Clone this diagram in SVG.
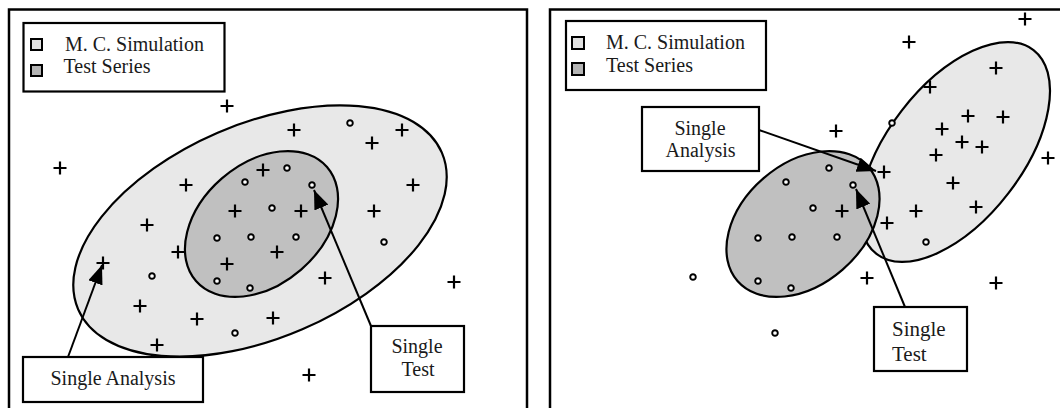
<svg xmlns="http://www.w3.org/2000/svg" xmlns:xlink="http://www.w3.org/1999/xlink" width="1060" height="408" viewBox="0 0 1060 408">
<style>
.frame{fill:none;stroke:#000;stroke-width:2.5}
.box{fill:#fff;stroke:#000;stroke-width:2.2}
.light{fill:#e8e8e8;stroke:#000;stroke-width:2.2}
.dark{fill:#c0c0c0;stroke:#000;stroke-width:2.2}
.sq1{fill:#e2e2e2;stroke:#000;stroke-width:2}
.sq2{fill:#b4b4b4;stroke:#000;stroke-width:2}
.t{font-family:"Liberation Serif","Times New Roman",serif;font-size:20px;fill:#1a1a1a}
.c{text-anchor:middle}
.conn{fill:none;stroke:#000;stroke-width:2}
</style>
<defs>
<marker id="ah" markerUnits="userSpaceOnUse" markerWidth="19" markerHeight="15" refX="19" refY="7.5" orient="auto">
<path d="M0,0 L19,7.5 L0,15 z" fill="#000"/>
</marker>
<g id="p"><path d="M-6.5,0 H6.5 M0,-6.5 V6.5" stroke="#000" stroke-width="2.2" fill="none"/></g>
<g id="o"><circle r="2.8" fill="#fff" stroke="#000" stroke-width="1.9"/></g>
</defs>
<rect width="1060" height="408" fill="#fff"/>

<!-- LEFT PANEL -->
<g id="left-frame"><rect class="frame" x="9" y="9.5" width="518" height="420"/></g>
<g id="left-legend">
<rect class="box" x="23.5" y="23" width="201" height="68.5"/>
<rect class="sq1" x="31" y="39" width="11" height="11"/>
<rect class="sq2" x="31" y="65" width="11" height="11"/>
<text class="t" x="65" y="51">M. C. Simulation</text>
<text class="t" x="63.5" y="73">Test Series</text>
</g>
<g id="left-mc-ellipse"><ellipse class="light" cx="260" cy="231" rx="198" ry="107" transform="rotate(-23.3 260 231)"/></g>
<g id="left-test-ellipse"><ellipse class="dark" cx="261.5" cy="224" rx="86.8" ry="60.4" transform="rotate(-41 261.5 224)"/></g>
<g id="left-points">
<use xlink:href="#p" x="227" y="106"/><use xlink:href="#p" x="60" y="168"/><use xlink:href="#p" x="186" y="185"/>
<use xlink:href="#p" x="147" y="225"/><use xlink:href="#p" x="263" y="170"/><use xlink:href="#p" x="235" y="211"/>
<use xlink:href="#p" x="301" y="211"/><use xlink:href="#p" x="294" y="130"/><use xlink:href="#p" x="372" y="143"/>
<use xlink:href="#p" x="402" y="130"/><use xlink:href="#p" x="413" y="185"/><use xlink:href="#p" x="374" y="211"/>
<use xlink:href="#p" x="178" y="252"/><use xlink:href="#p" x="277" y="252"/><use xlink:href="#p" x="227" y="264"/>
<use xlink:href="#p" x="325" y="278"/><use xlink:href="#p" x="103" y="263"/><use xlink:href="#p" x="140" y="306"/>
<use xlink:href="#p" x="197" y="319"/><use xlink:href="#p" x="157" y="345"/><use xlink:href="#p" x="273" y="318"/>
<use xlink:href="#p" x="309" y="375"/><use xlink:href="#p" x="454" y="282"/>
<use xlink:href="#o" x="350" y="123"/><use xlink:href="#o" x="287" y="168"/><use xlink:href="#o" x="245" y="182"/>
<use xlink:href="#o" x="312" y="185"/><use xlink:href="#o" x="272" y="208"/><use xlink:href="#o" x="217" y="238"/>
<use xlink:href="#o" x="251" y="237"/><use xlink:href="#o" x="296" y="237"/><use xlink:href="#o" x="217" y="281"/>
<use xlink:href="#o" x="250" y="288"/><use xlink:href="#o" x="152" y="276"/><use xlink:href="#o" x="235" y="333"/>
<use xlink:href="#o" x="384" y="242"/>
</g>
<g id="left-single-analysis">
<rect class="box" x="23" y="357" width="180" height="45"/>
<text class="t c" x="113" y="385">Single Analysis</text>
</g>
<g id="left-single-test">
<rect class="box" x="371" y="326" width="93" height="66"/>
<text class="t c" x="417" y="353">Single</text>
<text class="t c" x="418" y="376">Test</text>
</g>

<!-- RIGHT PANEL -->
<g id="right-frame"><rect class="frame" x="550" y="9.5" width="540" height="420"/></g>
<g id="right-legend">
<rect class="box" x="566" y="21" width="200" height="69"/>
<rect class="sq1" x="572" y="37" width="12" height="12"/>
<rect class="sq2" x="572" y="63" width="12" height="12"/>
<text class="t" x="606" y="48.5">M. C. Simulation</text>
<text class="t" x="606" y="71.5">Test Series</text>
</g>
<g id="right-mc-ellipse"><ellipse class="light" cx="955" cy="152" rx="128.7" ry="67.5" transform="rotate(-52.4 955 152)"/></g>
<g id="right-test-ellipse"><ellipse class="dark" cx="803" cy="224" rx="86.8" ry="60.4" transform="rotate(-41 803 224)"/></g>
<g id="right-points">
<use xlink:href="#p" x="1025" y="19"/><use xlink:href="#p" x="909" y="42"/><use xlink:href="#p" x="996" y="68"/>
<use xlink:href="#p" x="930" y="87"/><use xlink:href="#p" x="968" y="116"/><use xlink:href="#p" x="1003" y="117"/>
<use xlink:href="#p" x="836" y="131"/><use xlink:href="#p" x="942" y="129"/><use xlink:href="#p" x="962" y="142"/>
<use xlink:href="#p" x="982" y="147"/><use xlink:href="#p" x="936" y="155"/><use xlink:href="#p" x="1048" y="158"/>
<use xlink:href="#p" x="884" y="172"/><use xlink:href="#p" x="953" y="183"/><use xlink:href="#p" x="842" y="211"/>
<use xlink:href="#p" x="916" y="211"/><use xlink:href="#p" x="976" y="207"/><use xlink:href="#p" x="887" y="223"/>
<use xlink:href="#p" x="867" y="278"/><use xlink:href="#p" x="996" y="283"/>
<use xlink:href="#o" x="892" y="123"/><use xlink:href="#o" x="829" y="168"/><use xlink:href="#o" x="786" y="182"/>
<use xlink:href="#o" x="853" y="185"/><use xlink:href="#o" x="813" y="208"/><use xlink:href="#o" x="758" y="238"/>
<use xlink:href="#o" x="792" y="237"/><use xlink:href="#o" x="837" y="237"/><use xlink:href="#o" x="926" y="242"/>
<use xlink:href="#o" x="693" y="277"/><use xlink:href="#o" x="758" y="281"/><use xlink:href="#o" x="791" y="288"/>
<use xlink:href="#o" x="775" y="333"/>
</g>
<g id="right-single-analysis">
<rect class="box" x="642" y="107" width="117" height="64"/>
<text class="t c" x="700" y="135">Single</text>
<text class="t c" x="700.5" y="157">Analysis</text>
</g>
<g id="right-single-test">
<rect class="box" x="874" y="307" width="93" height="64"/>
<text class="t" x="892" y="336" style="font-size:21px">Single</text>
<text class="t" x="892" y="361" style="font-size:21px">Test</text>
</g>

<g id="connectors">
<line class="conn" x1="68" y1="357" x2="102" y2="265" marker-end="url(#ah)"/>
<line class="conn" x1="371" y1="326" x2="314" y2="190" marker-end="url(#ah)"/>
<line class="conn" x1="759" y1="130" x2="876" y2="171" marker-end="url(#ah)"/>
<line class="conn" x1="905" y1="307" x2="856" y2="189" marker-end="url(#ah)"/>
</g>
</svg>
